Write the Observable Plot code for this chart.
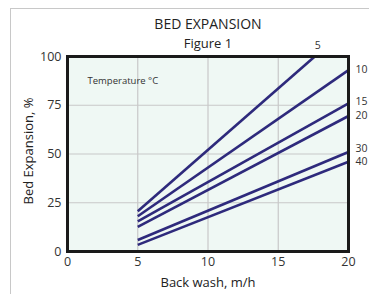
<!DOCTYPE html>
<html><head><meta charset="utf-8">
<script src="https://cdn.jsdelivr.net/npm/d3@7"></script>
<script src="https://cdn.jsdelivr.net/npm/@observablehq/plot@0.6"></script>
<style>
body{margin:0;background:#fff;}
#wrap{position:relative;width:369px;height:294px;overflow:hidden;}
#frame{position:absolute;left:10px;top:8px;width:500px;height:500px;border:1px solid #c8c8c8;}
#chart{position:absolute;left:0;top:0;}
</style>
</head><body>
<div id="wrap"><div id="frame"></div><div id="chart"></div></div>
<script>
const temps = ["5","10","15","20","30","40"];
const startX = [5,5,5,5,5,5];
const startY = [20.6,18.1,15.5,12.6,5.9,3.4];
const endX = [17.6,20,20,20,20,20];
const endY = [100,93,76,69.5,51,46];
const xTicks = [0,5,10,15,20];
const yTicks = [0,25,50,75,100];

const segs = temps.map((t,i)=>({t, x1:startX[i], y1:startY[i], x2:endX[i], y2:endY[i]}));
const font = "'Open Sans', 'DejaVu Sans', sans-serif";
const lineColor = "#2e2a7c";
const labelShift = {"10": -1, "15": -2, "20": 0, "30": -3, "40": 0};

const plot = Plot.plot({
  width: 369, height: 294,
  marginLeft: 67, marginRight: 21, marginTop: 56, marginBottom: 43,
  style: {fontFamily: font, background: "transparent", color: "#333"},
  x: {domain: [0,20], ticks: xTicks, tickSize: 0, tickPadding: 6, label: null},
  y: {domain: [0,100], ticks: yTicks, tickSize: 0, tickPadding: 6, label: null},
  marks: [
    Plot.frame({fill: "#eff8f4", stroke: "none"}),
    Plot.gridX(xTicks.slice(1,-1), {stroke: "#c8c8c8", strokeOpacity: 1, strokeWidth: 1.2}),
    Plot.gridY(yTicks.slice(1,-1), {stroke: "#c8c8c8", strokeOpacity: 1, strokeWidth: 1.2}),
    Plot.link(segs, {x1:"x1", y1:"y1", x2:"x2", y2:"y2", stroke: lineColor, strokeWidth: 2.6}),
    Plot.frame({stroke: "#1a1a1a", strokeWidth: 3}),
    Plot.axisX(xTicks, {tickSize: 0, tickPadding: 6, fontSize: 12.5, label: null, fill: "#333"}),
    Plot.axisY(yTicks, {tickSize: 0, tickPadding: 6, fontSize: 12.5, label: null, fill: "#333"}),
    Plot.text(segs.filter(d=>d.y2>=100), {x:"x2", y:"y2", text:"t", dy:-11, dx:3, fontSize: 10.5, fill:"#333", clip:false}),
    ...segs.filter(d=>d.y2<100).map(d =>
      Plot.text([d], {x:"x2", y:"y2", text:"t", dx:7, dy: labelShift[d.t] ?? 0, textAnchor:"start", fontSize: 10.5, fill:"#333", clip:false})),
    Plot.text(["Temperature °C"], {frameAnchor:"top-left", lineAnchor:"middle", dx:20, dy:24, fontSize: 9.5, fill:"#333"}),
    Plot.text(["BED EXPANSION"], {frameAnchor:"top", lineAnchor:"middle", dy:-32, fontSize: 14, fill:"#222"}),
    Plot.text(["Figure 1"], {frameAnchor:"top", lineAnchor:"middle", dy:-13, fontSize: 13, fill:"#222"}),
    Plot.text(["Back wash, m/h"], {frameAnchor:"bottom", lineAnchor:"middle", dy:31, fontSize: 13, fill:"#222"}),
    Plot.text(["Bed Expansion, %"], {frameAnchor:"left", textAnchor:"middle", lineAnchor:"middle", dx:-39, dy:-3, rotate:-90, fontSize: 13, fill:"#222"})
  ]
});
document.getElementById("chart").appendChild(plot);
</script>
</body></html>
